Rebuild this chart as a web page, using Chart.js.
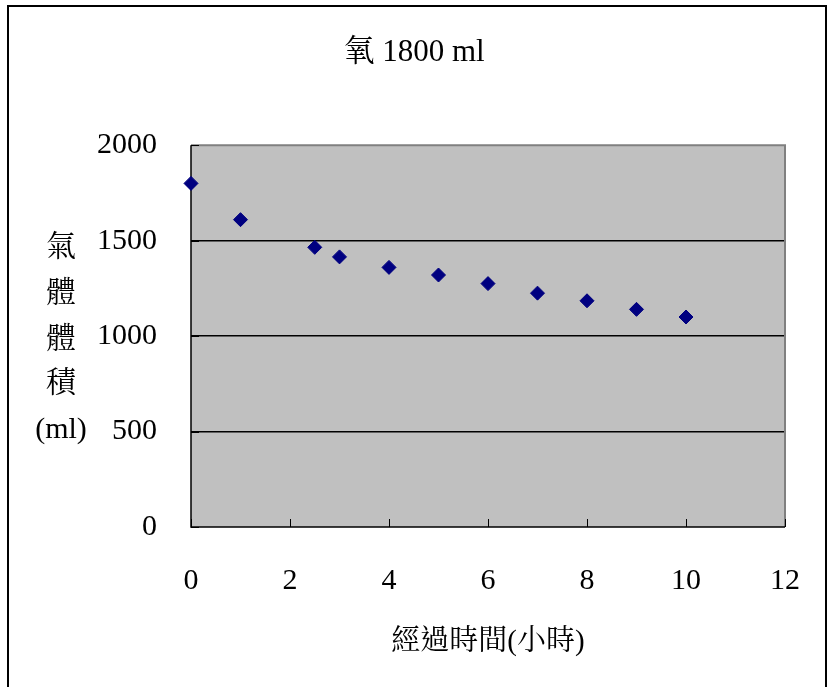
<!DOCTYPE html>
<html lang="zh-Hant">
<head>
<meta charset="UTF-8">
<title>氧 1800 ml</title>
<script src="https://cdn.jsdelivr.net/npm/chart.js"></script>
<style>
    body { margin: 0; background: #fff; }
    .wrap { width: 828px; height: 687px; position: relative; }
</style>
</head>
<body>
<div class="wrap"><canvas id="chart" width="828" height="687"></canvas></div>
<script>
// 資料
const hours = [0, 1, 2.5, 3, 4, 5, 6, 7, 8, 9, 10];
const volume = [1800, 1610, 1465, 1415, 1360, 1320, 1275, 1225, 1185, 1140, 1100];
const xTicks = [0, 2, 4, 6, 8, 10, 12];
const yTicks = [0, 500, 1000, 1500, 2000];
const titleText = '氧 1800 ml';
const xTitle = '經過時間(小時)';
const yTitleLines = ['氣', '體', '體', '積', '(ml)'];

const FONT = '"Liberation Serif", "Noto Serif CJK TC", "Noto Sans CJK TC", serif';

// 外框 + 灰色繪圖區 + 向內刻度 + 直排 Y 軸標題
const excelLook = {
    id: 'excelLook',
    beforeDraw(chart) {
        const { ctx, chartArea: a } = chart;
        ctx.save();
        ctx.fillStyle = '#fff';
        ctx.fillRect(0, 0, chart.width, chart.height);
        ctx.strokeStyle = '#000';
        ctx.lineWidth = 2;
        ctx.strokeRect(8, 6, 818, 700);
        ctx.fillStyle = '#c0c0c0';
        ctx.fillRect(a.left, a.top, a.right - a.left, a.bottom - a.top);
        ctx.restore();
    },
    beforeDatasetsDraw(chart) {
        const { ctx, chartArea: a, scales } = chart;
        ctx.save();
        // gray border top / right
        ctx.strokeStyle = '#808080';
        ctx.lineWidth = 2;
        ctx.beginPath();
        ctx.moveTo(a.left, a.top);
        ctx.lineTo(a.right, a.top);
        ctx.lineTo(a.right, a.bottom);
        ctx.stroke();
        // axes
        ctx.strokeStyle = '#000';
        ctx.lineWidth = 1.5;
        ctx.beginPath();
        ctx.moveTo(a.left, a.top);
        ctx.lineTo(a.left, a.bottom);
        ctx.lineTo(a.right, a.bottom);
        ctx.stroke();
        // inward ticks
        ctx.lineWidth = 1;
        ctx.beginPath();
        xTicks.forEach(v => {
            const px = Math.round(scales.x.getPixelForValue(v)) + 0.5;
            ctx.moveTo(px, a.bottom);
            ctx.lineTo(px, a.bottom - 8);
        });
        yTicks.forEach(v => {
            const py = Math.round(scales.y.getPixelForValue(v)) + 0.5;
            ctx.moveTo(a.left, py);
            ctx.lineTo(a.left + 8, py);
        });
        ctx.stroke();
        // y title, one char per line
        ctx.fillStyle = '#000';
        ctx.font = '30px ' + FONT;
        ctx.textAlign = 'center';
        ctx.textBaseline = 'middle';
        const ys = [248, 294, 340, 384, 430];
        yTitleLines.forEach((t, i) => ctx.fillText(t, 61, ys[i]));
        ctx.restore();
    }
};

new Chart(document.getElementById('chart'), {
    type: 'scatter',
    data: {
        datasets: [{
            label: titleText,
            data: hours.map((h, i) => ({ x: h, y: volume[i] })),
            pointStyle: 'rectRot',
            pointRadius: 7,
            pointHoverRadius: 7,
            backgroundColor: '#000080',
            borderColor: '#000080',
            borderWidth: 1,
            clip: false
        }]
    },
    options: {
        responsive: false,
        animation: false,
        layout: { padding: 0, autoPadding: false },
        plugins: {
            legend: { display: false },
            tooltip: { enabled: false },
            title: {
                display: true,
                text: titleText,
                color: '#000',
                font: { family: FONT, size: 31, weight: 'normal' },
                padding: { top: 34, bottom: 74 }
            }
        },
        scales: {
            x: {
                type: 'linear',
                min: 0,
                max: 12,
                afterBuildTicks: s => { s.ticks = xTicks.map(v => ({ value: v })); },
                afterFit: s => { s.height = 160; },
                // invisible tick marks only used as spacing above the labels
                grid: {
                    display: true,
                    drawOnChartArea: false,
                    drawTicks: true,
                    tickLength: 36,
                    color: 'rgba(0,0,0,0)',
                    tickColor: 'rgba(0,0,0,0)'
                },
                border: { display: false },
                ticks: {
                    color: '#000',
                    padding: 0,
                    maxRotation: 0,
                    font: { family: FONT, size: 30 }
                },
                title: {
                    display: true,
                    text: xTitle,
                    color: '#000',
                    font: { family: FONT, size: 29 },
                    padding: { top: 0, bottom: 27 }
                }
            },
            y: {
                min: 0,
                max: 2000,
                afterBuildTicks: s => { s.ticks = yTicks.map(v => ({ value: v })); },
                afterFit: s => { s.width = 191; },
                grid: {
                    drawTicks: false,
                    color: ctx => (ctx.tick && (ctx.tick.value === 0 || ctx.tick.value === 2000)) ? 'rgba(0,0,0,0)' : '#000',
                    lineWidth: 1.5
                },
                border: { display: false },
                ticks: {
                    color: '#000',
                    padding: 34,
                    callback: v => String(v),
                    font: { family: FONT, size: 30 }
                }
            },
            // empty right-hand spacer so the plot ends at x = 785
            yRight: {
                position: 'right',
                display: true,
                afterFit: s => { s.width = 43; },
                grid: { display: false, drawTicks: false },
                border: { display: false },
                ticks: { display: false }
            }
        }
    },
    plugins: [excelLook]
});
</script>
</body>
</html>
